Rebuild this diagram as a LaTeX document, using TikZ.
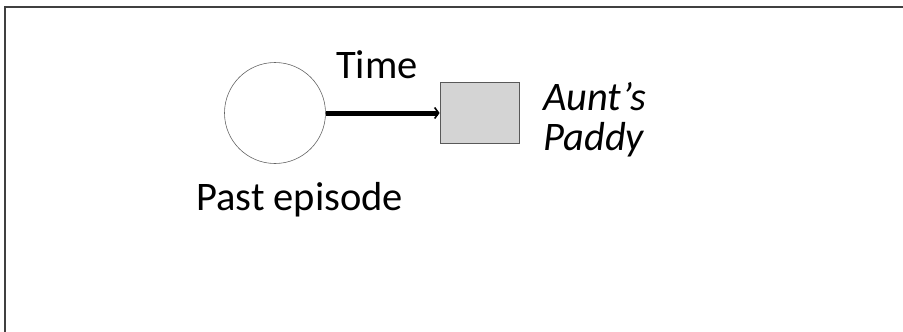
\documentclass[tikz,border=0pt]{standalone}
\usepackage{fontspec}
\setmainfont{Carlito}
\usetikzlibrary{arrows.meta}
\begin{document}
\begin{tikzpicture}[x=1pt,y=1pt,
  lbl/.style={inner sep=0pt,anchor=base west,font=\fontsize{40.5}{42}\selectfont},
  episode/.style={circle,draw=black!60,line width=0.6pt,minimum size=101pt,inner sep=0pt},
  paddybox/.style={rectangle,draw=black!65,fill=black!17,line width=0.8pt,minimum width=79pt,minimum height=61pt,inner sep=0pt},
  timearrow/.style={line width=5pt,-{Straight Barb[length=4pt,width=11pt,line width=1.6pt]}}]
\useasboundingbox (0,0) rectangle (903,-332);
\draw[black!75,line width=2pt] (5,-332) -- (5,-7) -- (903,-7);
\node[episode] (c) at (275,-113) {};
\node[paddybox] (r) at (479.5,-113) {};
\draw[timearrow] (c) -- (r);
\node[lbl] (time) at (336,-78) {Time};
\node[lbl] (past) at (196,-210) {Past episode};
\node[lbl] (aunt) at (543,-110) {\itshape Aunt’s};
\node[lbl] (paddy) at (543,-150) {\itshape Paddy};
\end{tikzpicture}
\end{document}
